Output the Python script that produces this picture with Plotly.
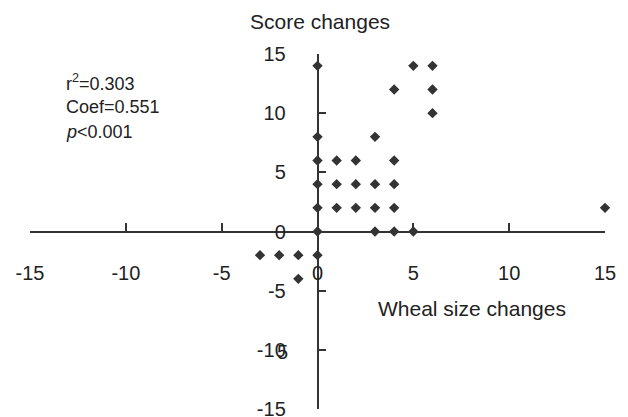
import plotly.graph_objects as go

# Data
wheal_changes = [0, 5, 6, 4, 6, 6, 0, 3,
                 0, 1, 2, 4,
                 0, 1, 2, 3, 4,
                 0, 1, 2, 3, 4, 15,
                 0, 3, 4, 5,
                 -3, -2, -1, 0,
                 -1]
score_changes = [14, 14, 14, 12, 12, 10, 8, 8,
                 6, 6, 6, 6,
                 4, 4, 4, 4, 4,
                 2, 2, 2, 2, 2, 2,
                 0, 0, 0, 0,
                 -2, -2, -2, -2,
                 -4]
tick_vals = [-15, -10, -5, 0, 5, 10, 15]
tick_text = ["-15", "-10", "-5", "0", "5", "10", "15"]
stats_lines = ["r<sup>2</sup>=0.303", "Coef=0.551", "<i>p</i>&lt;0.001"]

FONT = "Liberation Sans, Arial, sans-serif"
INK = "#222222"
AX = "#333333"

fig = go.Figure()
fig.add_trace(go.Scatter(
    x=wheal_changes, y=score_changes, mode="markers",
    marker=dict(symbol="diamond", size=8, color="#333333", line=dict(width=0)),
    cliponaxis=False, showlegend=False,
))

axis_common = dict(
    range=[-15, 15], tickvals=tick_vals, ticktext=tick_text,
    showgrid=False, zeroline=False, showline=True, linecolor=AX, linewidth=1.5,
    ticks="inside", ticklen=8, tickwidth=1.5, tickcolor=AX,
    tickfont=dict(family=FONT, size=20, color=INK),
    ticklabeloverflow="allow", automargin=False,
    anchor="free", position=0.5, fixedrange=True,
)
fig.update_xaxes(**axis_common, ticklabelstandoff=24)
fig.update_yaxes(**axis_common, ticklabelstandoff=27)

L, R, T, B = 30, 23, 54, 8
W, H = 628, 417
pw, ph = W - L - R, H - T - B

def px(xp):
    return (xp - L) / pw

def py(yp):
    return (H - B - yp) / ph

annos = [
    dict(text="Score changes", x=px(320), y=py(22), xanchor="center", yanchor="middle",
         font=dict(family=FONT, size=21, color=INK)),
    dict(text="Wheal size changes", x=px(472), y=py(308), xanchor="center", yanchor="middle",
         font=dict(family=FONT, size=21, color=INK)),
    # overprinted "5" on the -10 tick label, as in the reference
    dict(text="5", x=px(282), y=py(352), xanchor="center", yanchor="middle",
         font=dict(family=FONT, size=20, color=INK)),
]
for i, line in enumerate(stats_lines):
    annos.append(dict(text=line, x=px(64), y=py(82 + 25 * i), xanchor="left", yanchor="middle",
                      font=dict(family=FONT, size=18, color=INK)))
for a in annos:
    a.update(xref="paper", yref="paper", showarrow=False)

fig.update_layout(
    width=W, height=H, margin=dict(l=L, r=R, t=T, b=B),
    paper_bgcolor="white", plot_bgcolor="white",
    annotations=annos,
)

fig.write_html("out.html", config={"displayModeBar": False},
               post_script="document.body.style.margin='0';")
